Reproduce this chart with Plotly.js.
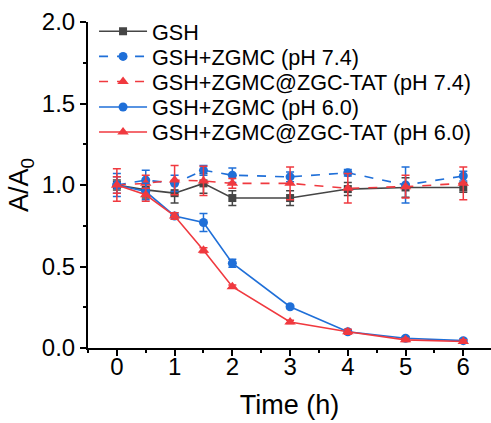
<!DOCTYPE html>
<html>
<head>
<meta charset="utf-8">
<script src="https://cdn.plot.ly/plotly-3.0.1.min.js"></script>
<style>html,body{margin:0;padding:0;background:#fff;}#chart{width:491px;height:423px;}</style>
</head>
<body>
<div id="chart"></div>
<script>
var time = [0, 0.5, 1, 1.5, 2, 3, 4, 5, 6];
var xTickVals = [0, 1, 2, 3, 4, 5, 6];
var yTickVals = [0, 0.5, 1.0, 1.5, 2.0];
var yTickText = ["0.0", "0.5", "1.0", "1.5", "2.0"];

var names = ["GSH", "GSH+ZGMC (pH 7.4)", "GSH+ZGMC@ZGC-TAT (pH 7.4)", "GSH+ZGMC (pH 6.0)", "GSH+ZGMC@ZGC-TAT (pH 6.0)"];

var gsh      = [1.00, 0.97, 0.95, 1.01, 0.92, 0.92, 0.975, 0.985, 0.985];
var gshErr   = [0.03, 0.05, 0.06, 0.06, 0.045, 0.045, 0.04, 0.06, 0.03];
var zgmc74   = [1.00, 1.03, 1.01, 1.09, 1.06, 1.05, 1.075, 1.00, 1.055];
var zgmc74Err= [0.07, 0.06, 0.05, 0.03, 0.045, 0.03, 0.02, 0.11, 0.03];
var tat74    = [1.00, 1.01, 1.03, 1.025, 1.01, 1.01, 0.98, 0.99, 1.01];
var tat74Err = [0.10, 0.05, 0.09, 0.09, 0.03, 0.10, 0.09, 0.07, 0.10];
var zgmc60   = [1.00, 0.96, 0.81, 0.77, 0.52, 0.253, 0.10, 0.06, 0.045];
var zgmc60Err= [0.05, 0.05, 0.02, 0.055, 0.025, 0.01, 0.01, 0.01, 0.01];
var tat60    = [1.00, 0.94, 0.81, 0.60, 0.376, 0.16, 0.10, 0.05, 0.04];
var tat60Err = [0.05, 0.04, 0.02, 0.015, 0.01, 0.01, 0.015, 0.01, 0.01];

var gray = "#454545", blue = "#1f6fd8", red = "#f0393f";
var legendIds = ["legend", "legend2", "legend3", "legend4", "legend5"];

function tr(i, y, err, color, dash, symbol, size) {
  return {
    x: time, y: y, name: names[i], legend: legendIds[i], type: "scatter", mode: "lines+markers",
    line: {color: color, width: 1.6, dash: dash},
    marker: {color: color, symbol: symbol, size: size},
    error_y: {type: "data", array: err, visible: true, color: color, thickness: 1.5, width: 4}
  };
}

var data = [
  tr(0, gsh, gshErr, gray, "solid", "square", 8),
  tr(1, zgmc74, zgmc74Err, blue, "dash", "circle", 9),
  tr(2, tat74, tat74Err, red, "dash", "triangle-up", 10),
  tr(3, zgmc60, zgmc60Err, blue, "solid", "circle", 9),
  tr(4, tat60, tat60Err, red, "solid", "triangle-up", 10)
];

var font = "Liberation Sans, Arial, sans-serif";
var layout = {
  width: 491, height: 423,
  margin: {l: 88, r: 0, t: 22, b: 75},
  paper_bgcolor: "#fff", plot_bgcolor: "#fff",
  font: {family: font, color: "#000"},
  showlegend: true,
  xaxis: {
    range: [-0.5, 6.48], showgrid: false, zeroline: false,
    showline: true, linecolor: "#000", linewidth: 2,
    ticks: "outside", ticklen: 6, tickwidth: 2, tickcolor: "#000",
    tickvals: xTickVals, tickfont: {size: 24}, ticklabelstandoff: -10,
    minor: {ticks: "outside", dtick: 0.5, ticklen: 3, tickwidth: 2, tickcolor: "#000"},
    title: {text: "Time (h)", font: {size: 27}, standoff: 16}
  },
  yaxis: {
    range: [0, 2.0], showgrid: false, zeroline: false,
    showline: true, linecolor: "#000", linewidth: 2,
    ticks: "outside", ticklen: 6, tickwidth: 2, tickcolor: "#000",
    tickvals: yTickVals, ticktext: yTickText, tickfont: {size: 24},
    minor: {ticks: "outside", dtick: 0.25, ticklen: 3, tickwidth: 2, tickcolor: "#000"},
    title: {text: "A/A<sub>0</sub>", font: {size: 27}, standoff: 5}
  }
};

var legendY = [0.970, 0.893, 0.816, 0.738, 0.661];
for (var i = 0; i < legendIds.length; i++) {
  layout[legendIds[i]] = {
    x: 0.015, y: legendY[i], xanchor: "left", yanchor: "middle",
    font: {size: 21.6, family: font}, bgcolor: "rgba(0,0,0,0)", itemwidth: 48
  };
}

Plotly.newPlot("chart", data, layout, {displayModeBar: false, staticPlot: true});
</script>
</body>
</html>
